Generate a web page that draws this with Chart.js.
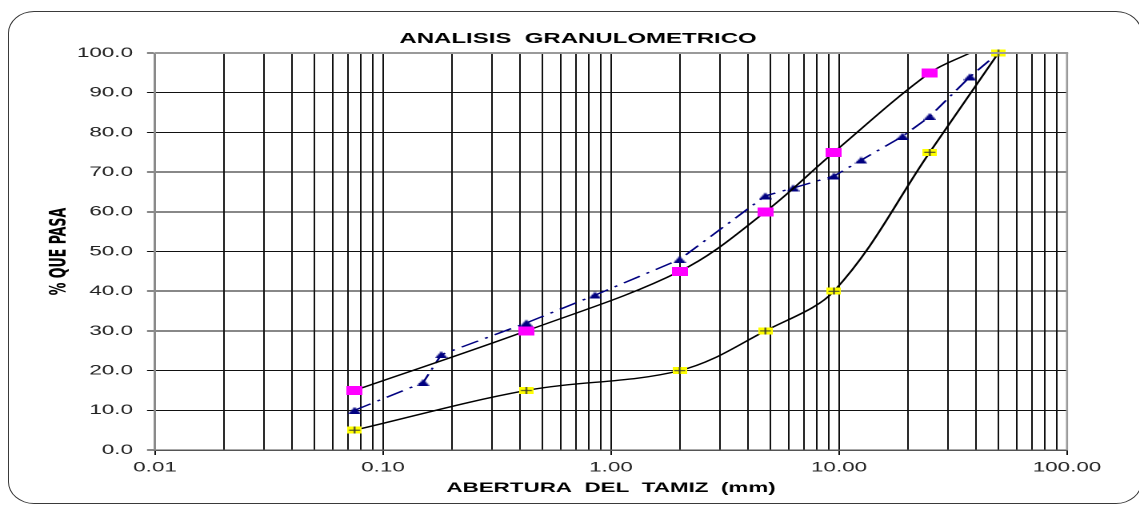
<!DOCTYPE html>
<html><head><meta charset="utf-8">
<script src="https://cdn.jsdelivr.net/npm/chart.js@4.4.1/dist/chart.umd.min.js"></script>
<style>
html,body{margin:0;padding:0;background:#fff;overflow:hidden;width:1139px;height:505px;}
#wrap{position:absolute;left:0;top:0;width:712px;height:505px;transform-origin:0 0;transform:scaleX(1.6);}
#frame{position:absolute;left:8px;top:11px;width:1134px;height:493px;border:1.5px solid #3a3a3a;border-radius:26px/22px;box-sizing:border-box;pointer-events:none;}
</style></head><body>
<div id="wrap"><canvas id="c" width="712" height="505"></canvas></div>
<div id="frame"></div>
<script>
// ---- data ----
const titleText = 'ANALISIS  GRANULOMETRICO';
const xAxisTitle = 'ABERTURA  DEL  TAMIZ  (mm)';
const yAxisTitle = '% QUE PASA';
const xTickLabels = ['0.01', '0.10', '1.00', '10.00', '100.00'];
const yTickLabels = ['0.0', '10.0', '20.0', '30.0', '40.0', '50.0', '60.0', '70.0', '80.0', '90.0', '100.0'];

const upperX = [0.075, 0.425, 2.0, 4.75, 9.5, 25, 37.5];
const upperY = [15, 30, 45, 60, 75, 95, 100];
const lowerX = [0.075, 0.425, 2.0, 4.75, 9.5, 25, 50];
const lowerY = [5, 15, 20, 30, 40, 75, 100];
const sampleX = [0.075, 0.15, 0.18, 0.425, 0.85, 2.0, 4.75, 6.3, 9.5, 12.5, 19, 25, 37.5, 50];
const sampleY = [10, 17, 24, 32, 39, 48, 64, 66, 69, 73, 79, 84, 94, 100];

// ---- markers ----
function makeMarker(w, h, draw) {
  const c = document.createElement('canvas');
  c.width = w; c.height = h;
  draw(c.getContext('2d'), w, h);
  return c;
}
const squareMarker = makeMarker(10, 9, (g, w, h) => { g.fillStyle = '#FF00FF'; g.fillRect(0, 0, w, h); });
const plusMarker = makeMarker(9, 7, (g, w, h) => {
  g.fillStyle = '#FFFF00'; g.fillRect(0, 0, w, h);
  g.fillStyle = '#333'; g.fillRect(4, 0, 1, h); g.fillRect(1, 3, 7, 1);
});
const triMarker = makeMarker(8, 7, (g, w, h) => {
  g.fillStyle = '#000080'; g.beginPath(); g.moveTo(0, h); g.lineTo(w / 2, 0); g.lineTo(w, h); g.closePath(); g.fill();
});

const FONT = '"Liberation Sans", Arial, sans-serif';
const NARROW = '"Liberation Sans Narrow", "Arial Narrow", "DejaVu Sans Condensed", "Liberation Sans", sans-serif';
const isDecade = v => Math.abs(Math.log10(v) - Math.round(Math.log10(v))) < 1e-6;
const toPts = (xs, ys) => xs.map((x, i) => ({x: x, y: ys[i]}));

const plotFrame = {
  id: 'plotFrame',
  afterDraw(chart) {
    const {ctx, chartArea: a} = chart;
    ctx.save();
    ctx.strokeStyle = '#9a9a9a';
    ctx.lineWidth = 2;
    ctx.beginPath(); ctx.moveTo(a.left, a.top); ctx.lineTo(a.right + 0.7, a.top); ctx.stroke();
    ctx.lineWidth = 1.3;
    ctx.beginPath(); ctx.moveTo(a.right, a.top); ctx.lineTo(a.right, a.bottom); ctx.stroke();
    ctx.restore();
  }
};

new Chart(document.getElementById('c'), {
  type: 'line',
  data: {
    datasets: [
      {
        label: 'Límite superior',
        data: toPts(upperX, upperY),
        borderColor: '#000', borderWidth: 1.4, tension: 0.35,
        pointStyle: squareMarker,
        pointRadius: c => (c.dataIndex === upperX.length - 1 ? 0 : 5),
        clip: {left: 12, top: 0, right: 12, bottom: 12}
      },
      {
        label: 'Límite inferior',
        data: toPts(lowerX, lowerY),
        borderColor: '#000', borderWidth: 1.4, tension: 0.35,
        pointStyle: plusMarker, pointRadius: 5,
        clip: 12
      },
      {
        label: 'Muestra',
        data: toPts(sampleX, sampleY),
        borderColor: '#000080', borderWidth: 1.4, tension: 0,
        borderDash: [12, 5, 2, 5],
        pointStyle: triMarker, pointRadius: 5,
        clip: 12
      }
    ]
  },
  options: {
    responsive: false,
    devicePixelRatio: 2,
    animation: false,
    layout: {padding: {left: 10.6, right: 0, top: 0, bottom: 0}},
    plugins: {
      legend: {display: false},
      tooltip: {enabled: false},
      title: {
        display: true, text: titleText, color: '#000',
        font: {family: FONT, size: 15, weight: 'bold'},
        padding: {top: 30, bottom: 5}
      }
    },
    scales: {
      x: {
        type: 'logarithmic', position: 'bottom', min: 0.01, max: 100,
        afterFit: s => { s.height = 55; },
        afterBuildTicks: s => {
          s.ticks = s.ticks.filter(t => {
            const m = t.value / Math.pow(10, Math.floor(Math.log10(t.value) + 1e-9));
            return Math.abs(m - Math.round(m)) < 1e-6;
          });
        },
        grid: {
          color: '#111', lineWidth: 1, tickLength: 5,
          tickColor: c => (c.tick && isDecade(c.tick.value) ? '#111' : 'rgba(0,0,0,0)')
        },
        border: {color: '#555', width: 1.5},
        ticks: {
          autoSkip: false, maxRotation: 0, minRotation: 0, padding: 4, color: '#222',
          font: {family: FONT, size: 14},
          callback: v => {
            if (!isDecade(v)) return '';
            const k = Math.round(Math.log10(v)) + 2;
            return xTickLabels[k] !== undefined ? xTickLabels[k] : '';
          }
        },
        title: {
          display: true, text: xAxisTitle, color: '#000',
          font: {family: FONT, size: 14, weight: 'bold'},
          padding: {top: 0, bottom: 8.6}
        }
      },
      y: {
        min: 0, max: 100,
        afterFit: s => { s.width = 86.3; },
        grid: {color: '#111', lineWidth: 1, tickLength: 5},
        border: {color: '#8a8a8a', width: 1.5},
        ticks: {
          stepSize: 10, padding: 8.8, color: '#222',
          font: {family: FONT, size: 14},
          callback: (v, i) => (yTickLabels[i] !== undefined ? yTickLabels[i] : v.toFixed(1))
        },
        title: {
          display: true, text: yAxisTitle, color: '#000',
          font: {family: NARROW, size: 14, weight: 'bold'},
          padding: {top: 18.6, bottom: 0}
        }
      },
      yRight: {
        position: 'right', min: 0, max: 100,
        afterFit: s => { s.width = 45.1; },
        grid: {display: false, drawTicks: false},
        border: {display: false},
        ticks: {display: false},
        title: {display: false}
      }
    }
  },
  plugins: [plotFrame]
});
</script>
</body></html>
